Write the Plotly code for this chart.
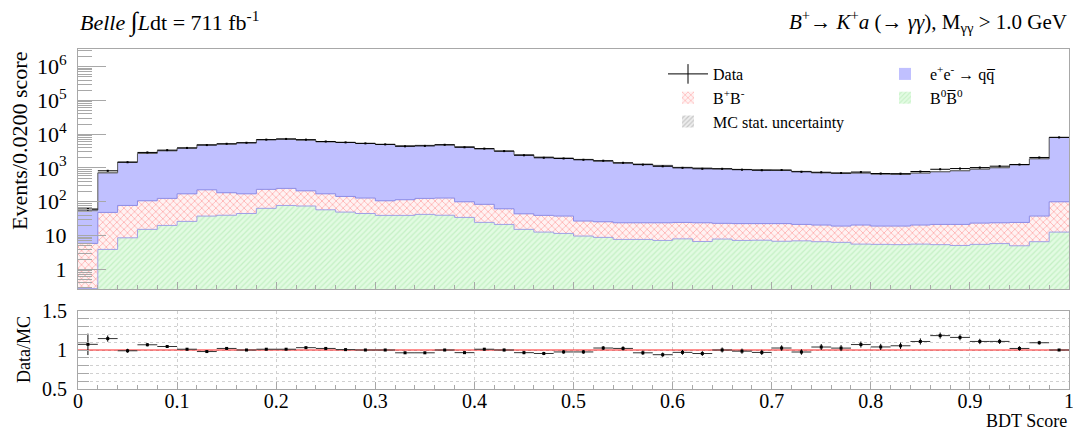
import numpy as np
import plotly.graph_objects as go

# ---------------- data ----------------
bin_edges = np.linspace(0.0, 1.0, 51)
bin_centers = 0.5 * (bin_edges[:-1] + bin_edges[1:])
half_w = 0.5 * (bin_edges[1] - bin_edges[0])

bb0 = [0.27, 3.9, 8.6, 15.3, 20, 26.3, 37.8, 40, 45, 64,
       78, 75, 58, 49.6, 45, 39.6, 39.6, 42.4, 40, 34.5,
       24.6, 21.4, 15.3, 12.7, 11.6, 9.7, 8.85, 7.7, 7.7, 7.2,
       8.0, 6.7, 7.9, 7.2, 7.3, 6.8, 7.0, 6.6, 6.3, 5.6,
       5.5, 5.4, 5.6, 5.4, 5.1, 5.5, 5.8, 5.0, 6.6, 12.7]
bpbm = [5.6, 44.6, 69.4, 91.7, 106, 145.7, 188, 145, 127, 169,
        171, 136, 114, 94.4, 84, 67.4, 75.4, 83.6, 89, 65.5,
        59.4, 40.6, 28.7, 26.9, 26.2, 17.2, 16.75, 16.2, 16.2, 16.7,
        16.5, 17.2, 15.1, 15.4, 15.3, 15.8, 14.4, 13.9, 12.8, 14.9,
        13.6, 13.7, 14.9, 16.0, 16.3, 17.9, 18.1, 19.5, 31.2, 87.3]
qqbar = [51, 672, 1417, 2593, 3104, 3708, 4634, 4915, 5398, 6597,
         6911, 6479, 5788, 5546, 5211, 4883, 4425, 4544, 4731, 4140,
         3616, 3098, 2416, 2060, 1922, 1768, 1574, 1372, 1279, 1170,
         1018, 969, 924, 882, 862, 826, 772, 700, 673, 688,
         641, 626, 688, 752, 807, 904, 994, 1220, 1834, 7940]
data = [61, 826, 1480, 2881, 3375, 3919, 4763, 5202, 5570, 6898,
        7232, 6891, 6079, 5718, 5340, 4990, 4377, 4502, 4860, 4096,
        3737, 3160, 2376, 2006, 1911, 1750, 1640, 1424, 1256, 1122,
        1011, 948, 947, 891, 857, 870, 773, 748, 709, 758,
        686, 680, 786, 916, 962, 1029, 1130, 1269, 2046, 8040]
mc_rel_unc = [0.10, 0.04, 0.03, 0.03, 0.03, 0.03, 0.03, 0.03, 0.03, 0.03,
              0.03, 0.03, 0.03, 0.03, 0.03, 0.03, 0.03, 0.03, 0.03, 0.03,
              0.03, 0.03, 0.03, 0.03, 0.03, 0.03, 0.03, 0.03, 0.03, 0.03,
              0.03, 0.03, 0.03, 0.03, 0.03, 0.03, 0.03, 0.03, 0.03, 0.04,
              0.04, 0.04, 0.04, 0.04, 0.04, 0.04, 0.04, 0.03, 0.03, 0.02]

x_tick_vals = [0, 0.1, 0.2, 0.3, 0.4, 0.5, 0.6, 0.7, 0.8, 0.9, 1.0]
x_tick_text = ["0", "0.1", "0.2", "0.3", "0.4", "0.5", "0.6", "0.7", "0.8", "0.9", "1"]

bb0 = np.array(bb0, float)
bpbm = np.array(bpbm, float)
qqbar = np.array(qqbar, float)
data = np.array(data, float)
mc_rel_unc = np.array(mc_rel_unc, float)

cum1 = bb0
cum2 = bb0 + bpbm
total = bb0 + bpbm + qqbar
data_err = np.sqrt(data)
ratio = data / total
ratio_err = data_err / total

FONT = "Liberation Serif"
AXC = "#a8a8a8"


def step_xy(vals):
    return list(bin_edges), list(vals) + [vals[-1]]


fig = go.Figure()

# stacked histogram components
fig.add_trace(go.Bar(x=bin_centers, y=bb0, width=2 * half_w, name="B<sup>0</sup>B\u0305<sup>0</sup>",
                     marker=dict(color="#dcfadc", line=dict(width=0),
                                 pattern=dict(shape="/", fgcolor="#c4f0c4", bgcolor="#e2fbe2",
                                              size=4, solidity=0.3)),
                     legend="legend2", legendrank=2, xaxis="x", yaxis="y"))
fig.add_trace(go.Bar(x=bin_centers, y=bpbm, width=2 * half_w, name="B<sup>+</sup>B<sup>-</sup>",
                     marker=dict(color="white", line=dict(width=0),
                                 pattern=dict(shape="x", fgcolor="#ff8a8a", bgcolor="#fff2f2",
                                              size=5, solidity=0.2)),
                     legend="legend", legendrank=2, xaxis="x", yaxis="y"))
fig.add_trace(go.Bar(x=bin_centers, y=qqbar, width=2 * half_w,
                     name="e<sup>+</sup>e<sup>-</sup> \u2192 qq\u0305",
                     marker=dict(color="#c0c0ff", line=dict(width=0)),
                     legend="legend2", legendrank=1, xaxis="x", yaxis="y"))

# boundary step lines
for vals, col in [(cum1, "#a0a0e6"), (cum2, "#8c8ce6")]:
    sx, sy = step_xy(vals)
    fig.add_trace(go.Scatter(x=sx, y=sy, mode="lines", line=dict(color=col, width=1, shape="hv"),
                             showlegend=False, hoverinfo="skip", xaxis="x", yaxis="y"))

# MC stat uncertainty band
up = total * (1 + mc_rel_unc)
lo = total * (1 - mc_rel_unc)
band_x, band_y = [], []
for i in range(50):
    band_x += [bin_edges[i], bin_edges[i + 1]]
    band_y += [up[i], up[i]]
for i in range(49, -1, -1):
    band_x += [bin_edges[i + 1], bin_edges[i]]
    band_y += [lo[i], lo[i]]
fig.add_trace(go.Scatter(x=band_x, y=band_y, mode="lines", fill="toself",
                         fillcolor="rgba(150,150,150,0.55)", line=dict(width=0),
                         showlegend=False, hoverinfo="skip", xaxis="x", yaxis="y"))
sx, sy = step_xy(total)
fig.add_trace(go.Scatter(x=sx, y=sy, mode="lines", line=dict(color="#555555", width=1, shape="hv"),
                         showlegend=False, hoverinfo="skip", xaxis="x", yaxis="y"))

# data points (top)
fig.add_trace(go.Scatter(x=bin_centers, y=data, mode="markers",
                         marker=dict(color="black", size=2, symbol="square"),
                         error_x=dict(type="constant", value=half_w, color="black", thickness=1, width=0),
                         error_y=dict(type="data", array=data_err, color="black", thickness=1, width=0),
                         showlegend=False, xaxis="x", yaxis="y"))

# legend-only entries
fig.add_trace(go.Scatter(x=[None], y=[None], mode="lines+markers", name="Data",
                         line=dict(color="black", width=1),
                         marker=dict(symbol="line-ns-open", size=14, color="black",
                                     line=dict(color="black", width=1)),
                         legend="legend", legendrank=1, xaxis="x", yaxis="y"))
fig.add_trace(go.Bar(x=[None], y=[None], name="MC stat. uncertainty",
                     marker=dict(color="#e6e6e6", line=dict(width=0),
                                 pattern=dict(shape="/", fgcolor="#c8c8c8", bgcolor="#eeeeee",
                                              size=4, solidity=0.4)),
                     legend="legend", legendrank=3, xaxis="x", yaxis="y"))

# ratio panel
fig.add_trace(go.Scatter(x=[0, 1], y=[1, 1], mode="lines", line=dict(color="#ff2020", width=1),
                         showlegend=False, hoverinfo="skip", xaxis="x2", yaxis="y2"))
fig.add_trace(go.Scatter(x=bin_centers, y=ratio, mode="markers",
                         marker=dict(color="black", size=3, symbol="square"),
                         error_x=dict(type="constant", value=half_w, color="#333333", thickness=1, width=0),
                         error_y=dict(type="data", array=ratio_err, color="black", thickness=1, width=0),
                         showlegend=False, xaxis="x2", yaxis="y2"))

major_log = [1, 10, 100, 1e3, 1e4, 1e5, 1e6]
major_log_txt = ["1", "10", "10<sup>2</sup>", "10<sup>3</sup>", "10<sup>4</sup>",
                 "10<sup>5</sup>", "10<sup>6</sup>"]
minor_log = [k * 10.0 ** n for n in range(-1, 7) for k in range(2, 10)]

ratio_ticks = [0.5, 0.6, 0.7, 0.8, 0.9, 1.0, 1.1, 1.2, 1.3, 1.4, 1.5]
ratio_txt = ["0.5", "", "", "", "", "1", "", "", "", "", "1.5"]

fig.update_layout(
    template="none",
    width=1073, height=430,
    margin=dict(l=78, r=4, t=0, b=0, pad=0, autoexpand=False),
    paper_bgcolor="white", plot_bgcolor="white",
    barmode="stack", bargap=0,
    font=dict(family=FONT, color="black"),
    xaxis=dict(domain=[0, 1], anchor="y", range=[0, 1], showticklabels=False, automargin=False,
               tickmode="array", tickvals=x_tick_vals,
               ticks="inside", ticklen=7, tickcolor=AXC,
               minor=dict(ticks="inside", ticklen=4, tickcolor=AXC, dtick=0.02, tick0=0),
               showline=True, linecolor=AXC, mirror=True, showgrid=False, zeroline=False),
    yaxis=dict(domain=[1 - 289 / 430, 1 - 49 / 430], anchor="x", type="log", range=[-0.58, 6.52],
               automargin=False,
               tickmode="array", tickvals=major_log, ticktext=major_log_txt,
               ticks="inside", ticklen=28, tickcolor=AXC,
               minor=dict(ticks="inside", ticklen=14, tickcolor=AXC, tickmode="array", tickvals=minor_log),
               tickfont=dict(size=22), ticklabelstandoff=6,
               showline=True, linecolor=AXC, mirror=True, showgrid=False, zeroline=False),
    xaxis2=dict(domain=[0, 1], anchor="y2", range=[0, 1], automargin=False,
                tickmode="array", tickvals=x_tick_vals, ticktext=x_tick_text,
                ticklabeloverflow="allow", ticklabelstandoff=-6,
                ticks="inside", ticklen=7, tickcolor=AXC,
                minor=dict(ticks="inside", ticklen=4, tickcolor=AXC, dtick=0.02, tick0=0),
                showgrid=True, gridcolor="#d0d0d0", griddash="dot",
                tickfont=dict(size=20),
                showline=True, linecolor=AXC, mirror=True, zeroline=False),
    yaxis2=dict(domain=[1 - 389 / 430, 1 - 311 / 430], anchor="x2", range=[0.5, 1.5],
                automargin=False,
                tickmode="array", tickvals=ratio_ticks, ticktext=ratio_txt,
                ticks="inside", ticklen=11, tickcolor=AXC,
                showgrid=True, gridcolor="#d0d0d0", griddash="dot",
                tickfont=dict(size=20), ticklabelstandoff=6,
                showline=True, linecolor=AXC, mirror=True, zeroline=False),
    legend=dict(x=(663 - 78) / 991, y=1 - 57 / 430, xanchor="left", yanchor="top",
                bgcolor="rgba(0,0,0,0)", font=dict(size=16, family=FONT),
                itemwidth=40, tracegroupgap=10, traceorder="normal"),
    legend2=dict(x=(880 - 78) / 991, y=1 - 57 / 430, xanchor="left", yanchor="top",
                 bgcolor="rgba(0,0,0,0)", font=dict(size=16, family=FONT),
                 itemwidth=40, tracegroupgap=10, traceorder="normal"),
    showlegend=True,
)

ann = [
    dict(text="<i>Belle</i> <span style='font-size:26px'>\u222b</span><i>L</i>dt = 711 fb<sup>-1</sup>",
         x=0, y=1 - 22 / 430,
         xref="paper", yref="paper", xanchor="left", yanchor="middle", showarrow=False,
         font=dict(size=22, family=FONT)),
    dict(text="<i>B</i><sup>+</sup>\u2192 <i>K</i><sup>+</sup><i>a</i> (\u2192 <i>\u03b3\u03b3</i>), "
              "M<sub>\u03b3\u03b3</sub> > 1.0 GeV",
         x=1, y=1 - 22 / 430, xref="paper", yref="paper", xanchor="right", yanchor="middle",
         showarrow=False, font=dict(size=21, family=FONT)),
    dict(text="Events/0.0200 score", x=-58 / 991, y=1 - 141 / 430, xref="paper", yref="paper",
         textangle=-90, xanchor="center", yanchor="middle", showarrow=False,
         font=dict(size=22, family=FONT)),
    dict(text="Data/MC", x=-54 / 991, y=1 - 350 / 430, xref="paper", yref="paper",
         textangle=-90, xanchor="center", yanchor="middle", showarrow=False,
         font=dict(size=18, family=FONT)),
    dict(text="BDT Score", x=1, y=1 - 421 / 430, xref="paper", yref="paper",
         xanchor="right", yanchor="middle", showarrow=False, font=dict(size=18, family=FONT)),
]
fig.update_layout(annotations=ann)

fig.write_html("out.html")
